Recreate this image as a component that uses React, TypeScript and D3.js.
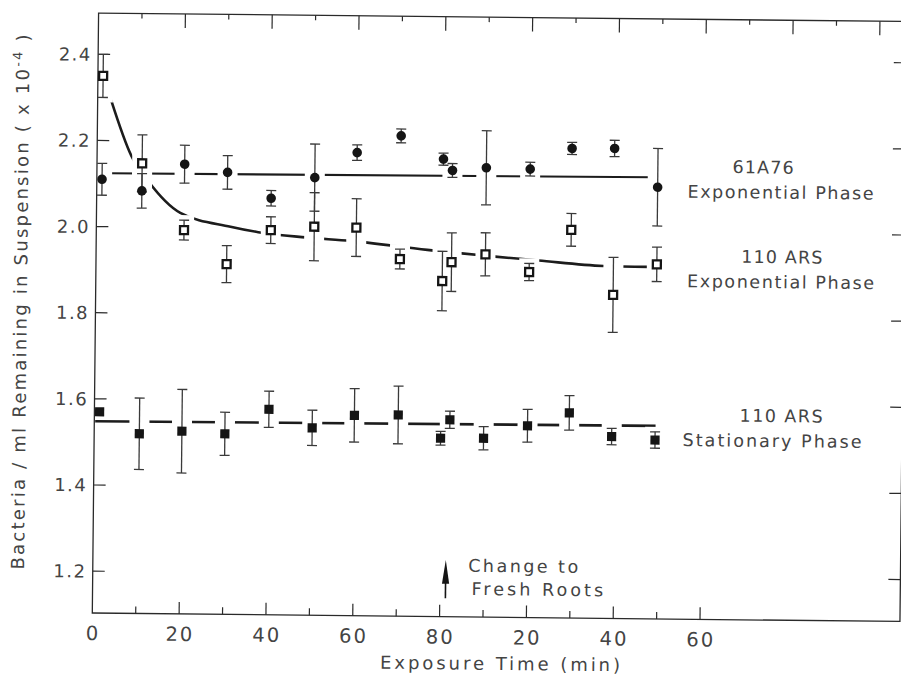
import React from 'react';
import * as d3 from 'd3';

// sampling times (min); after 80 min the roots were changed and the clock restarts on the labels
const times = [1.2, 10.4, 20.2, 30.1, 40.2, 50.2, 59.9, 70, 79.8, 81.9, 89.7, 99.8, 109.4, 119.2, 129.2];

// 61A76, exponential phase (filled circles)
const a76Values = [2.110, 2.084, 2.147, 2.129, 2.070, 2.119, 2.178, 2.218, 2.165, 2.139, 2.146, 2.144, 2.193, 2.194, 2.105];
const a76Errors = [0.037, 0.040, 0.044, 0.039, 0.018, 0.078, 0.018, 0.016, 0.014, 0.016, 0.086, 0.016, 0.014, 0.019, 0.090];

// 110 ARS, exponential phase (open squares)
const expValues = [2.350, 2.148, 1.994, 1.916, 1.996, 2.005, 2.004, 1.932, 1.882, 1.926, 1.945, 1.905, 2.004, 1.854, 1.926];
const expErrors = [0.050, 0.066, 0.023, 0.043, 0.031, 0.079, 0.067, 0.023, 0.069, 0.068, 0.050, 0.020, 0.038, 0.087, 0.040];

// 110 ARS, stationary phase (filled squares)
const statValues = [1.570, 1.520, 1.527, 1.522, 1.580, 1.538, 1.568, 1.570, 1.517, 1.560, 1.518, 1.548, 1.579, 1.525, 1.518];
const statErrors = [0, 0.083, 0.097, 0.050, 0.042, 0.041, 0.062, 0.067, 0.016, 0.020, 0.027, 0.038, 0.040, 0.019, 0.019];

// hand drawn fitted lines
const a76FitT = [2.9, 127.9];
const a76FitV = [2.124, 2.128];
const expFitT = [3.1, 7.9, 11.9, 19.3, 30.9, 37.3, 48.2, 58.6, 76.3, 101.9, 116.9, 127.3];
const expFitV = [2.294, 2.165, 2.106, 2.034, 2.003, 1.991, 1.980, 1.973, 1.954, 1.932, 1.921, 1.920];
const statFitT = [0.2, 129.3];
const statFitV = [1.548, 1.551];

const xTickValues = [0, 20, 40, 60, 80, 100, 120, 140];
const xTickLabels = ['0', '20', '40', '60', '80', '20', '40', '60'];
const yTickValues = [1.2, 1.4, 1.6, 1.8, 2.0, 2.2, 2.4];
const yTickLabels = ['1.2', '1.4', '1.6', '1.8', '2.0', '2.2', '2.4'];

const seriesNames = ['61A76', '110 ARS', '110 ARS'];
const seriesPhases = ['Exponential Phase', 'Exponential Phase', 'Stationary Phase'];

const changeTime = 81.3;

const W = 901;
const H = 675;
const left = 92.3, right = 900, top = 13, bottom = 613;
const font = '"DejaVu Sans", sans-serif';
const ink = '#2a2a2a';
const textInk = '#444';

const x = d3.scaleLinear().domain([0, 185.6]).range([left, 898]);
const y = d3.scaleLinear().domain([1.2, 2.4]).range([571.1, 54.3]);

const series = [
  { values: a76Values, errors: a76Errors, marker: 'circle', fitT: a76FitT, fitV: a76FitV },
  { values: expValues, errors: expErrors, marker: 'open', fitT: expFitT, fitV: expFitV },
  { values: statValues, errors: statErrors, marker: 'square', fitT: statFitT, fitV: statFitV },
];

// label placement (x centre of each line of text, name/phase)
const labelLayout = [
  { nameX: 758.4, phaseX: 776.2, nameLen: 61, phaseLen: 186 },
  { nameX: 778.1, phaseX: 777.1, nameLen: 81, phaseLen: 187 },
  { nameX: 779, phaseX: 770.3, nameLen: 83, phaseLen: 179 },
];

const straight = d3.line<[number, number]>().x(d => x(d[0])).y(d => y(d[1]));
const smooth = d3.line<[number, number]>().x(d => x(d[0])).y(d => y(d[1])).curve(d3.curveMonotoneX);

export default function App() {
  const points = series.flatMap(s => s.values.map((v, i) => ({ t: times[i], v, e: s.errors[i] })));

  return (
    <svg width={W} height={H} style={{ position: 'absolute', left: 0, top: 0, background: '#fff' }}>
      <defs>
        {/* the fitted lines are broken wherever a point or its error bar crosses them */}
        <mask id="gaps" maskUnits="userSpaceOnUse" x={0} y={0} width={W} height={H}>
          <rect x={0} y={0} width={W} height={H} fill="#fff" />
          {points.map((p, i) => (
            <rect key={i} x={x(p.t) - 10} y={y(p.v + p.e) - 5} width={20}
              height={y(p.v - p.e) - y(p.v + p.e) + 10} fill="#000" />
          ))}
        </mask>
      </defs>

      {/* the scanned figure sits slightly rotated on the page */}
      <g transform="rotate(0.6 92 613)">
        {/* frame */}
        <rect x={left} y={top} width={right - left} height={bottom - top} fill="none" stroke={ink} strokeWidth={1.3} />

        {d3.range(10, 141, 10).map(t => (
          <line key={'b' + t} x1={x(t)} x2={x(t)} y1={bottom} y2={bottom - (t % 20 === 0 ? 12 : 7)} stroke={ink} strokeWidth={1.2} />
        ))}
        {d3.range(10, 181, 10).map(t => (
          <line key={'t' + t} x1={x(t)} x2={x(t)} y1={top} y2={top + (t % 20 === 0 ? 14 : 5)} stroke={ink} strokeWidth={1.2} />
        ))}
        {yTickValues.map(v => (
          <g key={'y' + v}>
            <line x1={left} x2={left + 12} y1={y(v)} y2={y(v)} stroke={ink} strokeWidth={1.2} />
            <line x1={right} x2={right - 12} y1={y(v)} y2={y(v)} stroke={ink} strokeWidth={1.2} />
          </g>
        ))}

        {xTickValues.map((v, i) => (
          <text key={'xl' + i} x={x(v) + 1} y={640} textAnchor="middle" fontFamily={font} fontSize={19.5}
            letterSpacing={2} fill={textInk}>{xTickLabels[i]}</text>
        ))}
        {yTickValues.map((v, i) => (
          <text key={'yl' + i} x={86} y={y(v) + 6.5} textAnchor="end" fontFamily={font} fontSize={18}
            letterSpacing={1.5} fill={textInk}>{yTickLabels[i]}</text>
        ))}

        <text x={500.6} y={665.7} textAnchor="middle" fontFamily={font} fontSize={18} fill={textInk}
          textLength={240} lengthAdjust="spacing">Exposure Time (min)</text>
        <text transform="translate(23.5 302.7) rotate(-90)" textAnchor="middle" fontFamily={font} fontSize={18}
          fill={textInk} textLength={535} lengthAdjust="spacing">
          Bacteria / ml Remaining in Suspension ( x 10<tspan dy={-7} fontSize={13}>-4</tspan><tspan dy={7}> )</tspan>
        </text>

        {/* fitted lines */}
        <g mask="url(#gaps)" fill="none" stroke="#1c1c1c" strokeLinecap="butt">
          {series.map((s, k) => {
            const pts = s.fitT.map((t, i) => [t, s.fitV[i]] as [number, number]);
            return (
              <path key={k} d={(k === 1 ? smooth : straight)(pts) || ''} strokeWidth={k === 0 ? 2.1 : 2.6} />
            );
          })}
        </g>

        {/* error bars */}
        {series.map((s, k) => (
          <g key={'e' + k} stroke="#3a3a3a" strokeWidth={1.3}>
            {s.values.map((v, i) => {
              const e = s.errors[i];
              if (!e) return null;
              const cx = x(times[i]);
              return (
                <g key={i}>
                  <line x1={cx} x2={cx} y1={y(v - e)} y2={y(v + e)} />
                  <line x1={cx - 5} x2={cx + 5} y1={y(v - e)} y2={y(v - e)} />
                  <line x1={cx - 5} x2={cx + 5} y1={y(v + e)} y2={y(v + e)} />
                </g>
              );
            })}
          </g>
        ))}

        {/* markers */}
        {series.map((s, k) => (
          <g key={'m' + k}>
            {s.values.map((v, i) => {
              const cx = x(times[i]);
              const cy = y(v);
              if (s.marker === 'circle') return <circle key={i} cx={cx} cy={cy} r={4.8} fill="#151515" />;
              if (s.marker === 'open')
                return <rect key={i} x={cx - 4} y={cy - 4} width={8} height={8} fill="#fff" stroke="#151515" strokeWidth={2.3} />;
              return <rect key={i} x={cx - 4.6} y={cy - 4.6} width={9.2} height={9.2} fill="#151515" />;
            })}
          </g>
        ))}

        {/* series labels next to the end of each line */}
        {series.map((s, k) => {
          const ly = y(s.fitV[s.fitV.length - 1]);
          const L = labelLayout[k];
          return (
            <g key={'l' + k} fontFamily={font} fontSize={17.5} fill={textInk} textAnchor="middle">
              <text x={L.nameX} y={ly - 5} textLength={L.nameLen} lengthAdjust="spacing">{seriesNames[k]}</text>
              <text x={L.phaseX} y={ly + 20} textLength={L.phaseLen} lengthAdjust="spacing">{seriesPhases[k]}</text>
            </g>
          );
        })}

        {/* change of roots */}
        <g>
          <line x1={x(changeTime)} x2={x(changeTime)} y1={594.6} y2={575} stroke="#151515" strokeWidth={1.6} />
          <path d={`M${x(changeTime)},556.3 L${x(changeTime) - 3.6},580 L${x(changeTime) + 3.6},580 Z`} fill="#151515" />
          <text x={x(changeTime) + 22.5} y={567.8} fontFamily={font} fontSize={17.5} fill={textInk}
            textLength={110} lengthAdjust="spacing">Change to</text>
          <text x={x(changeTime) + 26} y={591} fontFamily={font} fontSize={17.5} fill={textInk}
            textLength={131.6} lengthAdjust="spacing">Fresh Roots</text>
        </g>
      </g>
    </svg>
  );
}
